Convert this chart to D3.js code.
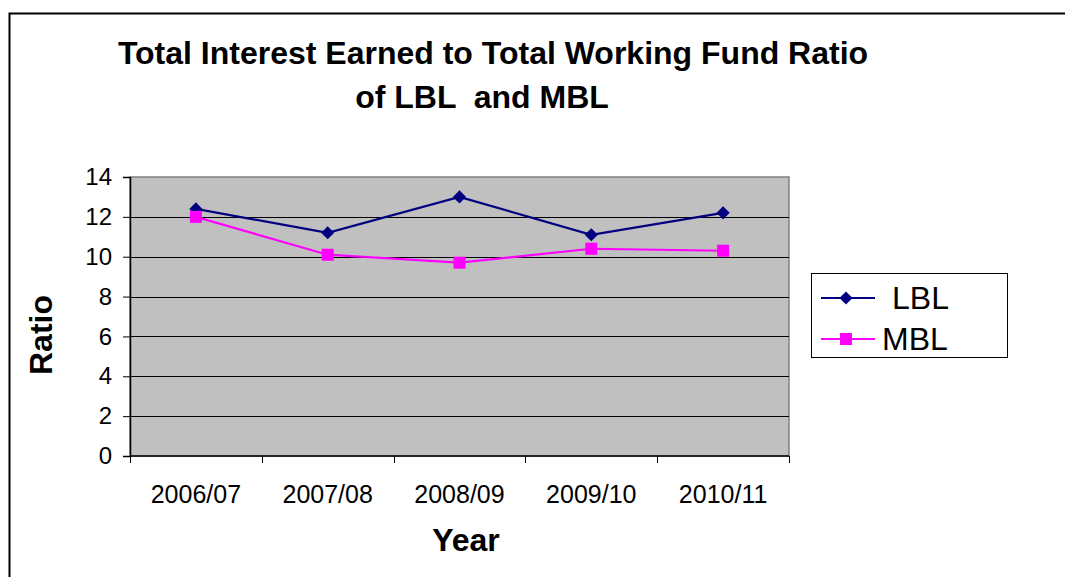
<!DOCTYPE html>
<html>
<head>
<meta charset="utf-8">
<script src="https://cdn.jsdelivr.net/npm/d3@7"></script>
<style>
  body { margin: 0; background: #fff; }
  svg text { font-family: "Liberation Sans", Arial, sans-serif; }
</style>
</head>
<body>
<div id="chart"></div>
<script>
// categories and series
var years = ["2006/07", "2007/08", "2008/09", "2009/10", "2010/11"];
var lblValues = [12.4, 11.2, 13.0, 11.1, 12.2];
var mblValues = [12.0, 10.1, 9.7, 10.4, 10.3];
var yTicks = [0, 2, 4, 6, 8, 10, 12, 14];
var seriesNames = ["LBL", "MBL"];

var drawChart = function(){

  var width = 1065, height = 577;
  var navy = "#000080", pink = "#FF00FF";

  var svg = d3.select("#chart").append("svg")
    .attr("width", width)
    .attr("height", height);

  // outer chart frame (runs off the right and bottom edges)
  svg.append("rect")
    .attr("x", 9.5).attr("y", 13.5)
    .attr("width", 1080).attr("height", 600)
    .attr("fill", "#fff")
    .attr("stroke", "#000")
    .attr("stroke-width", 2);

  // plot area
  var left = 130, right = 789, top = 177, bottom = 456;

  var x = d3.scaleBand()
    .domain(years)
    .range([left, right]);

  var y = d3.scaleLinear()
    .domain([0, 14])
    .range([bottom, top]);

  svg.append("rect")
    .attr("x", left).attr("y", top)
    .attr("width", right - left).attr("height", bottom - top)
    .attr("fill", "#C0C0C0")
    .attr("stroke", "#808080")
    .attr("stroke-width", 1.5);

  // gridlines
  svg.append("g").selectAll("line")
    .data(yTicks.filter(function(d){ return d > 0 && d < 14; }))
    .enter().append("line")
    .attr("x1", left).attr("x2", right)
    .attr("y1", function(d){ return Math.round(y(d)) + 0.5; })
    .attr("y2", function(d){ return Math.round(y(d)) + 0.5; })
    .attr("stroke", "#000")
    .attr("stroke-width", 1);

  // y axis
  var yAxis = svg.append("g")
    .attr("transform", "translate(" + left + ",0)")
    .call(d3.axisLeft(y).tickValues(yTicks).tickSize(7).tickPadding(11));
  yAxis.select(".domain").attr("stroke", "#000").attr("stroke-width", 1.5);
  yAxis.selectAll(".tick line").attr("stroke", "#000");
  yAxis.selectAll("text")
    .attr("font-size", 24)
    .attr("font-family", "Liberation Sans, Arial, sans-serif")
    .attr("fill", "#000");

  // x axis: ticks sit on category boundaries
  var xAxis = svg.append("g")
    .attr("transform", "translate(0," + bottom + ")");
  xAxis.append("line")
    .attr("x1", left).attr("x2", right)
    .attr("y1", 0).attr("y2", 0)
    .attr("stroke", "#000").attr("stroke-width", 1.5);
  var bounds = years.map(function(d){ return x(d); }).concat([right]);
  xAxis.selectAll("line.tk")
    .data(bounds)
    .enter().append("line")
    .attr("class", "tk")
    .attr("x1", function(d){ return Math.round(d) + 0.5; })
    .attr("x2", function(d){ return Math.round(d) + 0.5; })
    .attr("y1", 0).attr("y2", 7)
    .attr("stroke", "#000");
  xAxis.selectAll("text")
    .data(years)
    .enter().append("text")
    .attr("x", function(d){ return x(d) + x.bandwidth() / 2; })
    .attr("y", 47)
    .attr("text-anchor", "middle")
    .attr("font-size", 25)
    .text(function(d){ return d; });

  // lines
  var line = d3.line()
    .x(function(d, i){ return x(years[i]) + x.bandwidth() / 2; })
    .y(function(d){ return y(d); });

  svg.append("path")
    .datum(lblValues)
    .attr("fill", "none")
    .attr("stroke", navy)
    .attr("stroke-width", 2.2)
    .attr("d", line);

  svg.append("path")
    .datum(mblValues)
    .attr("fill", "none")
    .attr("stroke", pink)
    .attr("stroke-width", 2.2)
    .attr("d", line);

  var diamond = d3.symbol().type(d3.symbolDiamond2).size(110);

  svg.append("g").selectAll("path")
    .data(lblValues)
    .enter().append("path")
    .attr("d", diamond)
    .attr("transform", function(d, i){
      return "translate(" + (x(years[i]) + x.bandwidth() / 2) + "," + y(d) + ")";
    })
    .attr("fill", navy);

  svg.append("g").selectAll("rect")
    .data(mblValues)
    .enter().append("rect")
    .attr("x", function(d, i){ return x(years[i]) + x.bandwidth() / 2 - 6; })
    .attr("y", function(d){ return y(d) - 6; })
    .attr("width", 12).attr("height", 12)
    .attr("fill", pink);

  // title
  svg.append("text")
    .attr("x", 493).attr("y", 64)
    .attr("text-anchor", "middle")
    .attr("font-size", 32).attr("font-weight", "bold")
    .text("Total Interest Earned to Total Working Fund Ratio");
  svg.append("text")
    .attr("x", 482).attr("y", 108)
    .attr("text-anchor", "middle")
    .attr("font-size", 32).attr("font-weight", "bold")
    .attr("xml:space", "preserve")
    .style("white-space", "pre")
    .text("of LBL  and MBL");

  // axis titles
  svg.append("text")
    .attr("transform", "translate(52,335) rotate(-90)")
    .attr("text-anchor", "middle")
    .attr("font-size", 32).attr("font-weight", "bold")
    .text("Ratio");
  svg.append("text")
    .attr("x", 466).attr("y", 551)
    .attr("text-anchor", "middle")
    .attr("font-size", 32).attr("font-weight", "bold")
    .text("Year");

  // legend
  var legend = svg.append("g");
  legend.append("rect")
    .attr("x", 811.5).attr("y", 273.5)
    .attr("width", 196).attr("height", 84)
    .attr("fill", "#fff")
    .attr("stroke", "#000");

  var legendRows = [
    { name: seriesNames[0], color: navy, y: 298, tx: 892 },
    { name: seriesNames[1], color: pink, y: 339, tx: 882 }
  ];
  legendRows.forEach(function(r, i){
    legend.append("line")
      .attr("x1", 821).attr("x2", 875)
      .attr("y1", r.y).attr("y2", r.y)
      .attr("stroke", r.color).attr("stroke-width", 2);
    if (i === 0) {
      legend.append("path")
        .attr("d", diamond)
        .attr("transform", "translate(846," + r.y + ")")
        .attr("fill", r.color);
    } else {
      legend.append("rect")
        .attr("x", 840).attr("y", r.y - 6)
        .attr("width", 12).attr("height", 12)
        .attr("fill", r.color);
    }
    legend.append("text")
      .attr("x", r.tx).attr("y", r.y + 11)
      .attr("font-size", 32)
      .text(r.name);
  });
};

drawChart();
</script>
</body>
</html>
